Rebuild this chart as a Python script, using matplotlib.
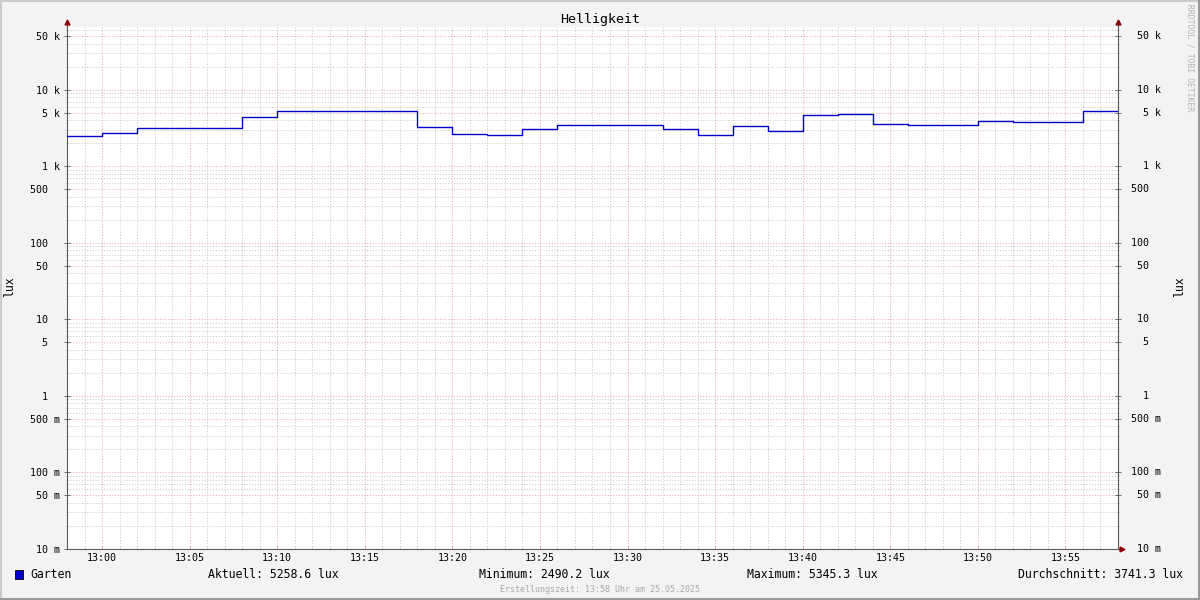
import matplotlib
matplotlib.use("Agg")
import matplotlib.pyplot as plt
import matplotlib.dates as mdates
from matplotlib.lines import Line2D
from matplotlib.patches import Rectangle
from matplotlib.ticker import FixedLocator, LogLocator, NullFormatter
from datetime import datetime

DAY = "2025-05-25 "

# step start times and lux readings
times = ["12:58", "13:00", "13:02", "13:08", "13:10", "13:18", "13:20", "13:22",
         "13:24", "13:26", "13:28", "13:32", "13:34", "13:36", "13:38", "13:40",
         "13:42", "13:44", "13:46", "13:50", "13:52", "13:56"]
lux = [2490.2, 2740, 3180, 4460, 5345.3, 3280, 2660, 2560,
       3090, 3410, 3510, 3030, 2600, 3310, 2910, 4690,
       4880, 3600, 3500, 3930, 3830, 5258.6]
t_start = "12:58"
t_end = "13:58"

y_ticks = [0.01, 0.05, 0.1, 0.5, 1, 5, 10, 50, 100, 500, 1000, 5000, 10000, 50000]
y_labels = ["10 m", "50 m", "100 m", "500 m", "1  ", "5  ", "10  ", "50  ",
            "100  ", "500  ", "1 k", "5 k", "10 k", "50 k"]
y_min, y_max = 0.01, 66000

legend_items = ["Aktuell: 5258.6 lux", "Minimum: 2490.2 lux",
                "Maximum: 5345.3 lux", "Durchschnitt: 3741.3 lux"]

BG = "#F3F3F3"
LINE = "#0000CC"
MGRID = "#E6A8A8"
GRID = "#C8C8C8"
AXIS = "#5A5A5A"
ARROW = "#8B0000"

plt.rcParams['font.family'] = ['DejaVu Sans Mono', 'DejaVu Sans']


def ts(s):
    return datetime.strptime(DAY + s, "%Y-%m-%d %H:%M")


x = [ts(s) for s in times] + [ts(t_end)]
y = lux + [lux[-1]]

fig = plt.figure(figsize=(12, 6), dpi=100, facecolor=BG)
ax = fig.add_axes([67 / 1200, 1 - 549 / 600, 1051 / 1200, 522 / 600])
ax.set_facecolor("white")

ax.plot(x, y, drawstyle="steps-post", color=LINE, lw=1.0, zorder=5)

ax.set_yscale("log")
ax.set_ylim(y_min, y_max)
ax.set_xlim(ts(t_start), ts(t_end))

# y grid
ax.yaxis.set_major_locator(FixedLocator(y_ticks))
ax.yaxis.set_minor_locator(LogLocator(base=10, subs=range(2, 10), numticks=30))
ax.yaxis.set_minor_formatter(NullFormatter())
ax.set_yticklabels(y_labels)

# x grid
ax.xaxis.set_major_locator(mdates.MinuteLocator(byminute=range(0, 60, 5)))
ax.xaxis.set_minor_locator(mdates.MinuteLocator())
ax.xaxis.set_major_formatter(mdates.DateFormatter("%H:%M"))

ax.grid(which="minor", color=GRID, lw=0.72, linestyle=(0, (1, 1.8)))
ax.grid(which="major", color=MGRID, lw=0.72, linestyle=(0, (1, 1.8)))
ax.set_axisbelow(True)

ax.tick_params(axis="y", which="major", direction="inout", length=4, width=0.6,
               color=AXIS, labelsize=7.2, pad=3, right=True)
ax.tick_params(axis="y", which="minor", direction="inout", length=2, width=0.4,
               color="#999999", right=True)
ax.tick_params(axis="x", which="major", direction="in", length=3, width=0.7,
               color=MGRID, labelsize=7.2, pad=3)
ax.tick_params(axis="x", which="minor", direction="in", length=2, width=0.5,
               color=GRID)

# right-side labels, right aligned like rrdtool
for v, lab in zip(y_ticks, y_labels):
    ax.text(1 + 43 / 1051, v, lab, transform=ax.get_yaxis_transform(),
            ha="right", va="center", fontsize=7.2)

ax.spines["top"].set_visible(False)
for side in ["left", "right", "bottom"]:
    ax.spines[side].set_color(AXIS)
    ax.spines[side].set_linewidth(0.8)

# axis extensions and arrows
ax.plot([0, 0], [1, 1.009], transform=ax.transAxes, color=AXIS, lw=0.8, clip_on=False)
ax.plot([1, 1], [1, 1.009], transform=ax.transAxes, color=AXIS, lw=0.8, clip_on=False)
ax.plot([1, 1.003], [0, 0], transform=ax.transAxes, color=AXIS, lw=0.8, clip_on=False)
ax.plot([0], [1.009], marker="^", ms=3.5, color=ARROW, transform=ax.transAxes, clip_on=False)
ax.plot([1], [1.009], marker="^", ms=3.5, color=ARROW, transform=ax.transAxes, clip_on=False)
ax.plot([1.004], [0], marker=">", ms=3.5, color=ARROW, transform=ax.transAxes, clip_on=False)

# titles and labels
fig.text(0.5, 1 - 19 / 600, "Helligkeit", ha="center", va="center", fontsize=9.6)
fig.text(10 / 1200, 1 - 287 / 600, "lux", rotation=90, ha="center", va="center", fontsize=8.3)
fig.text(1180 / 1200, 1 - 287 / 600, "lux", rotation=90, ha="center", va="center", fontsize=8.3)
fig.text(1190 / 1200, 1 - 4 / 600, "RRDTOOL / TOBI OETIKER", rotation=-90, ha="center",
         va="top", fontsize=5.8, color="#B4B4B4")

# legend row
ly = 1 - 575 / 600
fig.add_artist(Rectangle((15 / 1200, 1 - 579 / 600), 8 / 1200, 9 / 600,
                         facecolor=LINE, edgecolor="black", lw=0.6))
fig.text(30 / 1200, ly, "Garten", ha="left", va="center", fontsize=8.3)
fig.text(208 / 1200, ly, legend_items[0], ha="left", va="center", fontsize=8.3)
fig.text(544 / 1200, ly, legend_items[1], ha="center", va="center", fontsize=8.3)
fig.text(747 / 1200, ly, legend_items[2], ha="left", va="center", fontsize=8.3)
fig.text(1183 / 1200, ly, legend_items[3], ha="right", va="center", fontsize=8.3)
fig.text(0.5, 1 - 589 / 600, "Erstellungszeit: 13:58 Uhr am 25.05.2025", ha="center",
         va="center", fontsize=6, color="#A8A8A8")

# 3d frame
fig.add_artist(Line2D([0, 1], [1 - 1 / 600, 1 - 1 / 600], color="#CBCBCB", lw=1.5))
fig.add_artist(Line2D([1 / 1200, 1 / 1200], [0, 1], color="#CBCBCB", lw=1.5))
fig.add_artist(Line2D([0, 1], [1.5 / 600, 1.5 / 600], color="#999999", lw=2.2))
fig.add_artist(Line2D([1 - 1.5 / 1200, 1 - 1.5 / 1200], [0, 1], color="#999999", lw=2.2))

fig.savefig("out.png", dpi=100, facecolor=BG)
